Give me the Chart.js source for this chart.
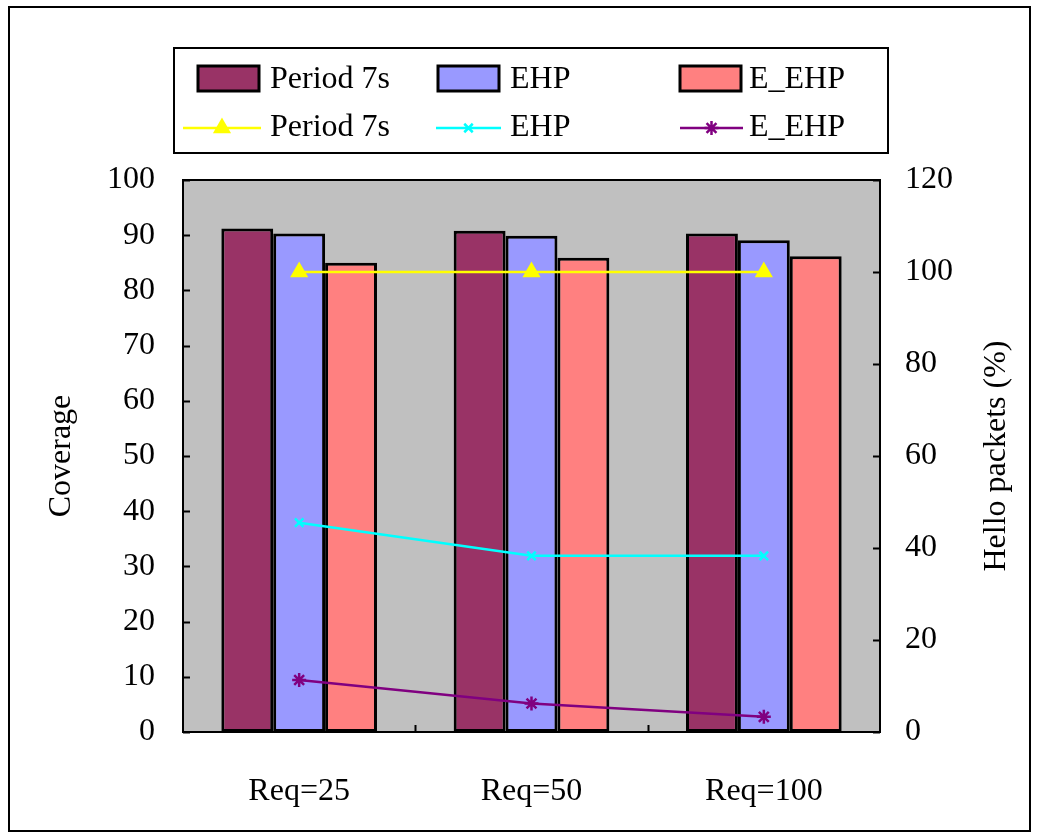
<!DOCTYPE html>
<html>
<head>
<meta charset="utf-8">
<title>Coverage and Hello packets</title>
<script src="https://cdn.jsdelivr.net/npm/chart.js@4/dist/chart.umd.min.js"></script>
<style>
  html, body { margin: 0; padding: 0; background: #fff; }
  #wrap { width: 1038px; height: 838px; }
</style>
</head>
<body>
<div id="wrap"><canvas id="c" width="1038" height="838"></canvas></div>
<script>
// ---- data ----
const categories = ['Req=25', 'Req=50', 'Req=100'];

// coverage (left axis, bars)
const coveragePeriod7s = [91.2, 90.8, 90.3];
const coverageEHP      = [90.3, 89.9, 89.1];
const coverageE_EHP    = [85.0, 85.9, 86.2];

// hello packets in % (right axis, lines)
const helloPeriod7s = [100, 100, 100];
const helloEHP      = [45.5, 38.3, 38.3];
const helloE_EHP    = [11.3, 6.2, 3.3];

const coverageRange = [0, 100, 10];   // min, max, step
const helloRange    = [0, 120, 20];

const coverageTitle = 'Coverage';
const helloTitle = 'Hello packets (%)';

const FONT = "'Liberation Serif', 'DejaVu Serif', serif";
Chart.defaults.font.family = FONT;
Chart.defaults.font.size = 32;
Chart.defaults.color = '#000';

// draws the frame, the grey plot area, inward tick marks, titles and legend
const decor = {
  id: 'decor',
  beforeDraw(chart) {
    const { ctx, chartArea: a, scales } = chart;
    ctx.save();
    ctx.fillStyle = '#fff';
    ctx.fillRect(0, 0, chart.width, chart.height);
    ctx.strokeStyle = '#000';
    ctx.lineWidth = 2;
    ctx.strokeRect(9, 7, 1021, 824);

    ctx.fillStyle = '#c0c0c0';
    ctx.fillRect(a.left, a.top, a.width, a.height);

    ctx.strokeStyle = '#000';
    ctx.lineWidth = 2;
    ctx.beginPath();
    scales.y.ticks.forEach(t => {
      const py = Math.round(scales.y.getPixelForValue(t.value)) + 0.5;
      ctx.moveTo(a.left, py); ctx.lineTo(a.left + 7, py);
    });
    scales.y1.ticks.forEach(t => {
      const py = Math.round(scales.y1.getPixelForValue(t.value)) + 0.5;
      ctx.moveTo(a.right - 7, py); ctx.lineTo(a.right, py);
    });
    for (let i = 1; i < categories.length; i++) {
      const px = Math.round((scales.x.getPixelForValue(i - 1) + scales.x.getPixelForValue(i)) / 2) + 0.5;
      ctx.moveTo(px, a.bottom); ctx.lineTo(px, a.bottom - 7);
    }
    ctx.stroke();
    ctx.restore();
  },
  afterDraw(chart) {
    const { ctx, chartArea: a } = chart;
    ctx.save();
    // plot border
    ctx.strokeStyle = '#000';
    ctx.lineWidth = 2;
    ctx.strokeRect(a.left, a.top, a.width, a.height);

    // axis titles, both reading bottom to top
    ctx.fillStyle = '#000';
    ctx.font = '32px ' + FONT;
    ctx.textAlign = 'center';
    ctx.textBaseline = 'middle';
    const cy = (a.top + a.bottom) / 2;
    [[62, coverageTitle], [997, helloTitle]].forEach(([x, txt]) => {
      ctx.save();
      ctx.translate(x, cy);
      ctx.rotate(-Math.PI / 2);
      ctx.fillText(txt, 0, 0);
      ctx.restore();
    });

    // legend box
    ctx.fillStyle = '#fff';
    ctx.fillRect(174, 48, 714, 105);
    ctx.lineWidth = 2;
    ctx.strokeRect(174, 48, 714, 105);

    const ds = chart.data.datasets;
    const colX = [198, 438, 680];
    const textX = [270, 510, 749];
    ctx.textAlign = 'left';
    ctx.font = '32px ' + FONT;
    // row 1: bar swatches
    for (let i = 0; i < 3; i++) {
      const d = ds[i];
      ctx.fillStyle = d.backgroundColor;
      ctx.fillRect(colX[i], 66, 61, 25);
      ctx.lineWidth = 3;
      ctx.strokeStyle = '#000';
      ctx.strokeRect(colX[i], 66, 61, 25);
      ctx.fillStyle = '#000';
      ctx.fillText(d.label, textX[i], 80);
    }
    // row 2: line samples
    const lineStart = [183, 436, 680];
    for (let i = 0; i < 3; i++) {
      const d = ds[3 + i];
      const x0 = lineStart[i], x1 = colX[i] + 63, y = 128;
      ctx.strokeStyle = d.borderColor;
      ctx.lineWidth = d.borderWidth;
      ctx.beginPath(); ctx.moveTo(x0, y); ctx.lineTo(x1, y); ctx.stroke();
      ctx.fillStyle = d.pointBackgroundColor;
      ctx.strokeStyle = d.pointBorderColor;
      ctx.lineWidth = d.pointBorderWidth;
      Chart.helpers.drawPoint(ctx, {
        pointStyle: d.pointStyle, radius: d.pointRadius, rotation: 0,
        borderWidth: d.pointBorderWidth
      }, (x0 + x1) / 2, y);
      ctx.fillStyle = '#000';
      ctx.fillText(d.label, textX[i], 128);
    }
    ctx.restore();
  }
};

function lineSet(label, data, color, style, radius) {
  return {
    type: 'line', label, data, yAxisID: 'y1', order: 0,
    borderColor: color, backgroundColor: color,
    pointBackgroundColor: color, pointBorderColor: color,
    borderWidth: 2.5, pointBorderWidth: 2.5,
    pointStyle: style, pointRadius: radius, tension: 0, fill: false
  };
}
function barSet(label, data, color) {
  return {
    type: 'bar', label, data, yAxisID: 'y', order: 1,
    backgroundColor: color, borderColor: '#000', borderWidth: 3,
    borderSkipped: false, barPercentage: 1, categoryPercentage: 0.67
  };
}

new Chart(document.getElementById('c'), {
  type: 'bar',
  data: {
    labels: categories,
    datasets: [
      barSet('Period 7s', coveragePeriod7s, '#993366'),
      barSet('EHP', coverageEHP, '#9999ff'),
      barSet('E_EHP', coverageE_EHP, '#ff8080'),
      lineSet('Period 7s', helloPeriod7s, '#ffff00', 'triangle', 8),
      lineSet('EHP', helloEHP, '#00ffff', 'crossRot', 6),
      lineSet('E_EHP', helloE_EHP, '#800080', 'star', 7)
    ]
  },
  options: {
    responsive: false,
    animation: false,
    layout: { padding: { top: 180, left: 0, right: 0, bottom: 0 } },
    plugins: { legend: { display: false }, tooltip: { enabled: false } },
    scales: {
      x: {
        grid: { display: false, drawTicks: false },
        border: { display: false },
        ticks: { padding: 40, font: { size: 32 } },
        afterFit(s) { s.height = 106; }
      },
      y: {
        position: 'left',
        min: coverageRange[0], max: coverageRange[1],
        grid: { display: false, drawTicks: false },
        border: { display: false },
        ticks: { stepSize: coverageRange[2], padding: 28, font: { size: 32 } },
        afterFit(s) { s.width = 183; }
      },
      y1: {
        position: 'right',
        min: helloRange[0], max: helloRange[1],
        grid: { display: false, drawTicks: false },
        border: { display: false },
        ticks: { stepSize: helloRange[2], padding: 25, font: { size: 32 } },
        afterFit(s) { s.width = 158; }
      }
    }
  },
  plugins: [decor]
});
</script>
</body>
</html>
